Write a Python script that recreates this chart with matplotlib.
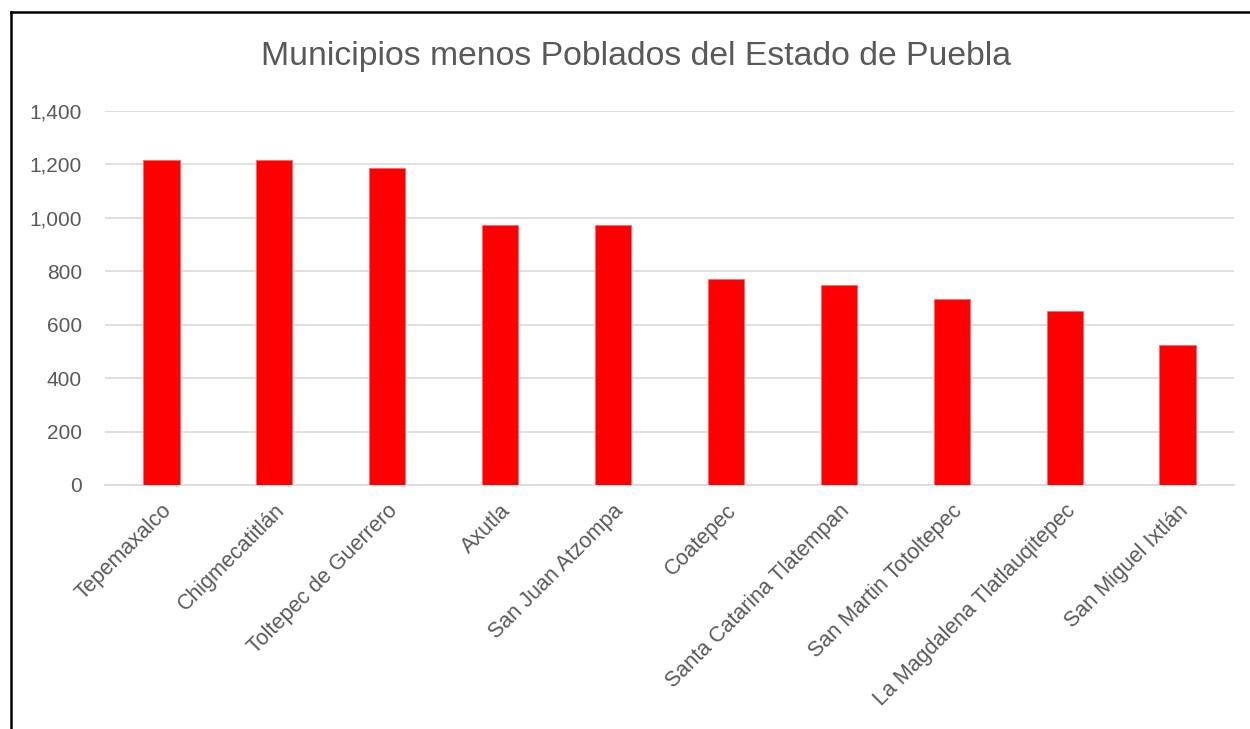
import matplotlib
matplotlib.use("Agg")
import matplotlib.pyplot as plt
from matplotlib.lines import Line2D
from matplotlib.ticker import FuncFormatter

categories = ["Tepemaxalco", "Chigmecatitlán", "Toltepec de Guerrero", "Axutla",
              "San Juan Atzompa", "Coatepec", "Santa Catarina Tlatempan",
              "San Martin Totoltepec", "La Magdalena Tlatlauqitepec", "San Miguel Ixtlán"]
values = [1217, 1217, 1186, 975, 975, 771, 749, 696, 650, 524]
yticks = [0, 200, 400, 600, 800, 1000, 1200, 1400]
title = "Municipios menos Poblados del Estado de Puebla"

W, H = 1250, 729
fig = plt.figure(figsize=(W / 100, H / 100), dpi=100)
plt.rcParams['font.family'] = ['Liberation Sans', 'DejaVu Sans']

ax = fig.add_axes([105 / W, 1 - 485 / H, (1234 - 105) / W, (485 - 111) / H])
x = list(range(len(categories)))
ax.bar(x, values, width=0.32, color="#ff0000", edgecolor="#ff6666", linewidth=0.6, zorder=3)
ax.set_xlim(-0.5, len(categories) - 0.5)
ax.set_ylim(0, 1400)
ax.set_yticks(yticks)
ax.yaxis.set_major_formatter(FuncFormatter(lambda v, p: f"{int(v):,}"))
ax.grid(axis="y", color="#d9d9d9", linewidth=1.2, zorder=0)
for s in ["top", "right", "left"]:
    ax.spines[s].set_visible(False)
ax.spines["bottom"].set_color("#d9d9d9")
ax.spines["bottom"].set_linewidth(1.2)
ax.tick_params(axis="both", length=0, colors="#595959", labelsize=15)
ax.tick_params(axis="y", pad=16.5)
ax.set_xticks(x)
ax.set_xticklabels(categories, rotation=45, ha="right", rotation_mode="anchor", fontsize=15.5, color="#595959")
ax.tick_params(axis="x", pad=11)

fig.text(636 / W, 1 - 57 / H, title, ha="center", va="center", fontsize=24.3, color="#595959")

# outer frame
fig.add_artist(Line2D([11 / W, 1.0], [1 - 12 / H, 1 - 12 / H], color="black", linewidth=1.8, transform=fig.transFigure))
fig.add_artist(Line2D([11 / W, 11 / W], [1 - 12 / H, 0], color="black", linewidth=1.8, transform=fig.transFigure))

fig.savefig("out.png", dpi=100)
